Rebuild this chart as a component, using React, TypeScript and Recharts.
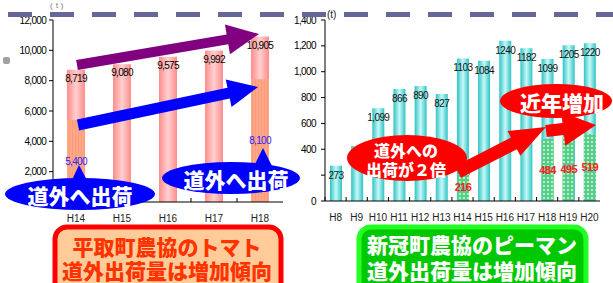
import React from 'react';
import { BarChart, Bar, XAxis, YAxis, LabelList } from 'recharts';

// 平取町農協 トマト (t)
const tomatoYears = ['H14', 'H15', 'H16', 'H17', 'H18'];
const tomatoTotal = [8719, 9080, 9575, 9992, 10905];
const tomatoOutside = [5400, null, null, null, 8100];
const tomatoTicks = [0, 2000, 4000, 6000, 8000, 10000, 12000];

// 新冠町農協 ピーマン (t)
const pepperYears = ['H8', 'H9', 'H10', 'H11', 'H12', 'H13', 'H14', 'H15', 'H16', 'H17', 'H18', 'H19', 'H20'];
const pepperTotal = [273, 425, 718, 866, 890, 827, 1103, 1084, 1240, 1182, 1099, 1205, 1220];
const pepperTotalLabels = ['273', '', '1,099', '866', '890', '827', '1103', '1084', '1240', '1182', '1099', '1205', '1220'];
const pepperOutside = [null, null, null, null, null, null, 216, null, null, null, 484, 495, 519];
const pepperTicks = [0, 200, 400, 600, 800, 1000, 1200, 1400];

const tomatoData = tomatoYears.map((year, i) => ({
  year,
  total: tomatoTotal[i],
  outside: tomatoOutside[i],
}));

const pepperData = pepperYears.map((year, i) => ({
  year,
  total: pepperTotal[i],
  label: pepperTotalLabels[i],
  outside: pepperOutside[i],
}));

const fmt = (v: any) => (v == null || v === '' ? '' : Number(v).toLocaleString('en-US'));

// x tick: label under the axis + small boundary mark between categories (Excel style)
const makeTick = (band: number) => (props: any) => {
  const { x, y, payload } = props;
  return (
    <g>
      <line x1={x - band / 2} x2={x - band / 2} y1={y} y2={y - 4} stroke="#000" />
      <text x={x} y={y + 20} textAnchor="middle" fontSize={10} fill="#222">
        {payload.value}
      </text>
    </g>
  );
};

const arrow = (x1: number, y1: number, x2: number, y2: number, shaft: number, headW: number, headL: number) => {
  const len = Math.hypot(x2 - x1, y2 - y1);
  const ux = (x2 - x1) / len;
  const uy = (y2 - y1) / len;
  const nx = -uy;
  const ny = ux;
  const bx = x2 - ux * headL;
  const by = y2 - uy * headL;
  const pts = [
    [x1 + (nx * shaft) / 2, y1 + (ny * shaft) / 2],
    [bx + (nx * shaft) / 2, by + (ny * shaft) / 2],
    [bx + (nx * headW) / 2, by + (ny * headW) / 2],
    [x2, y2],
    [bx - (nx * headW) / 2, by - (ny * headW) / 2],
    [bx - (nx * shaft) / 2, by - (ny * shaft) / 2],
    [x1 - (nx * shaft) / 2, y1 - (ny * shaft) / 2],
  ];
  return pts.map((p) => p.join(',')).join(' ');
};

const jp = "'Noto Sans CJK JP', sans-serif";

const App: React.FC = () => {
  return (
    <div
      style={{
        position: 'absolute',
        left: 0,
        top: 0,
        width: 613,
        height: 283,
        overflow: 'hidden',
        background: '#fff',
        fontFamily: "'Liberation Sans', Arial, sans-serif",
      }}
    >
      {/* left: tomato */}
      <div style={{ position: 'absolute', left: 0, top: 0 }}>
        <BarChart width={290} height={283} data={tomatoData} margin={{ top: 20, right: 7, bottom: 51, left: 0 }}>
          <defs>
            <linearGradient id="pinkGrad" x1="0" y1="0" x2="1" y2="0">
              <stop offset="0%" stopColor="#ff8c8c" />
              <stop offset="50%" stopColor="#ffd0d0" />
              <stop offset="100%" stopColor="#ff8c8c" />
            </linearGradient>
            <pattern id="orangePat" patternUnits="userSpaceOnUse" width="3" height="3">
              <rect width="3" height="3" fill="#ffa888" />
              <rect width="1" height="3" fill="#ff9a7a" />
            </pattern>
          </defs>
          <XAxis
            dataKey="year"
            xAxisId="b"
            axisLine={{ stroke: '#000' }}
            tickLine={false}
            tickSize={0}
            tickMargin={0}
            height={30}
            interval={0}
            tick={makeTick(46)}
          />
          <XAxis dataKey="year" xAxisId="t" orientation="top" height={0} tick={false} tickLine={false} axisLine={{ stroke: '#999' }} />
          <YAxis
            yAxisId="l"
            width={53}
            domain={[0, 12000]}
            ticks={tomatoTicks}
            tickFormatter={fmt}
            axisLine={{ stroke: '#000' }}
            tickLine={{ stroke: '#000' }}
            tickSize={4}
            tickMargin={3}
            tick={{ fontSize: 10, fill: '#000', letterSpacing: -0.7 }}
          />
          <YAxis yAxisId="r" orientation="right" width={0} domain={[0, 12000]} tick={false} tickLine={false} axisLine={{ stroke: '#999' }} />
          <Bar xAxisId="b" yAxisId="l" dataKey="total" barSize={18} fill="url(#pinkGrad)" isAnimationActive={false}>
            <LabelList dataKey="total" position="insideTop" offset={5} formatter={fmt} fill="#000" fontSize={10} letterSpacing={-0.7} />
          </Bar>
          <Bar xAxisId="t" yAxisId="r" dataKey="outside" barSize={18} fill="url(#orangePat)" isAnimationActive={false}>
            <LabelList dataKey="outside" position="center" formatter={fmt} fill="#2424ff" fontSize={10} letterSpacing={-0.7} />
          </Bar>
        </BarChart>
      </div>

      {/* right: green pepper */}
      <div style={{ position: 'absolute', left: 290, top: 0 }}>
        <BarChart width={323} height={283} data={pepperData} margin={{ top: 20, right: 13, bottom: 52, left: 0 }}>
          <defs>
            <linearGradient id="tealGrad" x1="0" y1="0" x2="1" y2="0">
              <stop offset="0%" stopColor="#2ec4c4" />
              <stop offset="50%" stopColor="#c8f8f8" />
              <stop offset="100%" stopColor="#2ec4c4" />
            </linearGradient>
            <pattern id="dotPat" patternUnits="userSpaceOnUse" width="4" height="4">
              <rect width="4" height="4" fill="#48ccb4" />
              <rect x="1" y="1" width="2" height="2" fill="#e0f24a" />
            </pattern>
          </defs>
          <XAxis
            dataKey="year"
            xAxisId="b"
            axisLine={{ stroke: '#000' }}
            tickLine={false}
            tickSize={0}
            tickMargin={0}
            height={30}
            interval={0}
            tick={makeTick(275 / 13)}
          />
          <XAxis dataKey="year" xAxisId="t" orientation="top" height={0} tick={false} tickLine={false} axisLine={{ stroke: '#999' }} />
          <YAxis
            yAxisId="l"
            width={35}
            domain={[0, 1400]}
            ticks={pepperTicks}
            tickFormatter={(v: number) => (v === 200 ? '' : fmt(v))}
            axisLine={{ stroke: '#000' }}
            tickLine={{ stroke: '#000' }}
            tickSize={4}
            tickMargin={5}
            tick={{ fontSize: 10, fill: '#000', letterSpacing: -0.6 }}
          />
          <YAxis yAxisId="r" orientation="right" width={0} domain={[0, 1400]} tick={false} tickLine={false} axisLine={{ stroke: '#999' }} />
          <Bar xAxisId="b" yAxisId="l" dataKey="total" barSize={12} fill="url(#tealGrad)" isAnimationActive={false}>
            <LabelList dataKey="label" position="insideTop" offset={6} fill="#111" fontSize={10} letterSpacing={-0.6} />
          </Bar>
          <Bar xAxisId="t" yAxisId="r" dataKey="outside" barSize={12} fill="url(#dotPat)" isAnimationActive={false}>
            <LabelList dataKey="outside" position="center" formatter={fmt} fill="#ff2020" fontSize={11} fontWeight="bold" letterSpacing={-0.6} />
          </Bar>
        </BarChart>
      </div>

      {/* annotations */}
      <svg width={613} height={283} style={{ position: 'absolute', left: 0, top: 0, pointerEvents: 'none' }}>
        <text x={50} y={8} fontSize={8} fill="#777">(ｔ)</text>
        <text x={327} y={18} fontSize={10} fill="#222">(t)</text>
        <line x1={8} y1={14.5} x2={613} y2={14.5} stroke="#666699" strokeWidth={5} strokeDasharray="24 18" />
        <rect x={3} y={57} width={7} height={7} rx={2} fill="#8a8a8a" opacity={0.8} />

        {/* tomato arrows */}
        <polygon points={arrow(77, 65, 259, 34, 10, 30, 32)} fill="#800080" />
        <polygon points={arrow(78, 125, 258, 87, 11, 28, 30)} fill="#0000ff" />

        {/* blue callouts */}
        <polygon points="71,182 79,165 88,182" fill="#0000ff" />
        <ellipse cx={80} cy={194} rx={75} ry={16} fill="#0000ff" />
        <text x={80} y={204} textAnchor="middle" fontSize={21} fontWeight={900} fill="#fff" fontFamily={jp}>道外へ出荷</text>
        <polygon points="254,166 263,148 272,166" fill="#0000ff" />
        <ellipse cx={231} cy={178} rx={69} ry={16} fill="#0000ff" />
        <text x={236} y={188} textAnchor="middle" fontSize={21} fontWeight={900} fill="#fff" fontFamily={jp}>道外へ出荷</text>

        {/* pepper arrows & callouts */}
        <polygon points={arrow(458, 172, 546, 127, 13, 28, 36)} fill="#ff0000" />
        <polygon points={arrow(546, 131, 596, 125, 12, 34, 33)} fill="#ff0000" />
        <ellipse cx={556} cy={101} rx={56} ry={17} fill="#ff0000" />
        <text x={562} y={111} textAnchor="middle" fontSize={21} fontWeight={900} fill="#fff" fontFamily={jp}>近年増加</text>
        <polygon points="455,163 470,175 462,152" fill="#ff0000" />
        <ellipse cx={407} cy={158} rx={60} ry={23} fill="#ff0000" />
        <text x={406} y={157} textAnchor="middle" fontSize={16} fontWeight={900} fill="#fff" fontFamily={jp}>道外への</text>
        <text x={406} y={176} textAnchor="middle" fontSize={16} fontWeight={900} fill="#fff" fontFamily={jp}>出荷が２倍</text>

        {/* title boxes */}
        <rect x={55} y={227} width={226} height={72} rx={12} fill="#ffcc99" stroke="#ff0000" strokeWidth={5} />
        <text x={167} y={255} textAnchor="middle" fontSize={21} fontWeight={900} fill="#ff3300" fontFamily={jp}>平取町農協のトマト</text>
        <text x={167} y={279} textAnchor="middle" fontSize={21} fontWeight={900} fill="#ff3300" fontFamily={jp}>道外出荷量は増加傾向</text>
        <rect x={359} y={227} width={227} height={72} rx={12} fill="#00c800" stroke="#22ff22" strokeWidth={5} />
        <text x={472} y={253} textAnchor="middle" fontSize={21} fontWeight={900} fill="#fff" fontFamily={jp}>新冠町農協のピーマン</text>
        <text x={472} y={279} textAnchor="middle" fontSize={21} fontWeight={900} fill="#fff" fontFamily={jp}>道外出荷量は増加傾向</text>
      </svg>
    </div>
  );
};

export default App;
